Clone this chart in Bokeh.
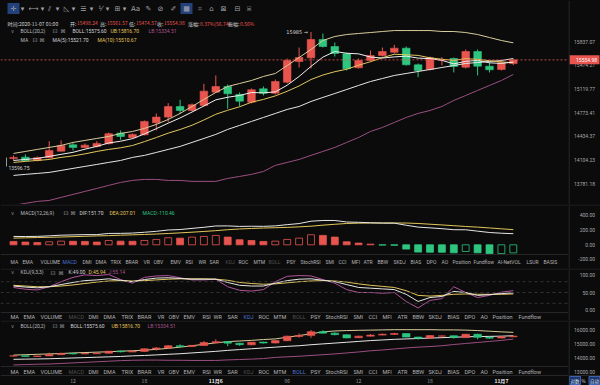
from bokeh.plotting import figure
from bokeh.layouts import column, row
from bokeh.models import Range1d, LinearScale, Span
from bokeh.core.properties import value
from bokeh.embed import file_html
from bokeh.resources import INLINE

try:
    from bokeh.models import GlobalInlineStyleSheet
except Exception:
    GlobalInlineStyleSheet = None

# ---------------- data ----------------
header_time = "2020-11-07 01:00"
opens = [14124, 14142, 14096, 14134, 14225, 14314, 14277, 14291, 14329, 14478, 14413, 14455, 14626, 14707,
         14861, 14803, 14876, 15071, 15155, 15037, 14924, 15120, 15056, 15219, 15530, 15586, 15868, 15760,
         15648, 15435, 15545, 15621, 15672, 15734, 15480, 15409, 15552, 15576, 15444, 15683, 15459, 15409, 15498.24]
highs = [14166, 14180, 14152, 14365, 14375, 14338, 14333, 14365, 14488, 14516, 14474, 14659, 14760, 14910,
         14959, 14905, 15195, 15319, 15185, 15066, 15125, 15155, 15259, 15576, 15744, 15985, 15962, 15822,
         15667, 15576, 15698, 15744, 15786, 15760, 15500, 15606, 15596, 15591, 15714, 15714, 15515, 15545, 15561.57]
lows = [14096, 14083, 14083, 14124, 14221, 14235, 14263, 14277, 14319, 14384, 14403, 14445, 14516, 14635,
        14755, 14789, 14861, 15066, 14828, 14861, 14905, 15022, 15037, 15199, 15439, 15424, 15744, 15606,
        15394, 15424, 15530, 15606, 15652, 15469, 15293, 15394, 15469, 15365, 15424, 15319, 15364, 15394, 15474.57]
closes = [14138, 14096, 14134, 14235, 14305, 14277, 14309, 14333, 14470, 14431, 14460, 14645, 14707, 14861,
          14803, 14886, 15086, 15155, 15047, 14939, 15106, 15056, 15229, 15545, 15591, 15868, 15760, 15652,
          15420, 15545, 15621, 15683, 15734, 15480, 15394, 15586, 15558, 15454, 15683, 15459, 15404, 15511, 15554.98]

boll_up = [14193, 14221, 14249, 14277, 14305, 14347, 14375, 14403, 14431, 14474, 14502, 14545, 14602, 14673,
           14760, 14861, 14964, 15066, 15155, 15199, 15244, 15304, 15349, 15469, 15591, 15714, 15853, 15915,
           15946, 15962, 15977, 15993, 16008, 16008, 16008, 16008, 15993, 15993, 15977, 15946, 15899, 15853, 15816.70]
boll_mid = [13891, 13905, 13918, 13932, 13959, 13987, 14014, 14041, 14069, 14096, 14138, 14166, 14207, 14249,
            14291, 14347, 14403, 14460, 14531, 14588, 14645, 14702, 14760, 14818, 14861, 14934, 14993, 15051,
            15110, 15170, 15229, 15274, 15319, 15349, 15379, 15409, 15439, 15469, 15500, 15515, 15530, 15545, 15575.60]
boll_low = [13489, 13516, 13542, 13555, 13595, 13635, 13675, 13715, 13756, 13796, 13823, 13837, 13837, 13823,
            13823, 13810, 13810, 13810, 13850, 13877, 13905, 13945, 14028, 14069, 14110, 14166, 14221, 14277,
            14347, 14417, 14502, 14559, 14630, 14702, 14760, 14803, 14861, 14949, 15022, 15096, 15170, 15244, 15334.51]
ma5 = [14096, 14110, 14124, 14152, 14181, 14209, 14252, 14292, 14339, 14364, 14400, 14467, 14542, 14620,
       14695, 14780, 14868, 14958, 14996, 15022, 15066, 15060, 15075, 15174, 15304, 15456, 15597, 15683,
       15656, 15647, 15598, 15583, 15600, 15612, 15582, 15574, 15548, 15494, 15533, 15547, 15510, 15501, 15521.70]
ma10 = [14069, 14083, 14096, 14110, 14138, 14159, 14187, 14221, 14249, 14272, 14304, 14358, 14416, 14478,
        14530, 14590, 14666, 14748, 14806, 14857, 14923, 14964, 15016, 15084, 15163, 15259, 15326, 15376,
        15413, 15474, 15527, 15589, 15641, 15633, 15623, 15586, 15565, 15547, 15573, 15563, 15542, 15524, 15510.67]

macd_dif = [114, 113, 115, 122, 131, 135, 139, 139, 155, 156, 160, 171, 184, 202, 208, 224, 239, 257, 258, 251,
            253, 252, 258, 275, 290, 322, 332, 332, 311, 307, 301, 296, 295, 267, 241, 231, 220, 206, 205, 186,
            168, 158, 151.70]
macd_dea = [91, 95, 99, 102, 106, 111, 116, 121, 125, 131, 136, 141, 147, 154, 163, 172, 182, 193, 206, 216,
            223, 229, 233, 238, 245, 254, 268, 280, 291, 295, 297, 298, 298, 297, 291, 281, 271, 261, 250, 241,
            230, 218, 207.01]
macd_hist = [46, 37, 32, 41, 50, 48, 46, 37, 59, 50, 48, 59, 73, 96, 91, 105, 114, 128, 105, 69, 59, 46, 50,
             73, 91, 137, 128, 105, 41, 23, 9, -4, -6, -59, -100, -101, -102, -110, -91, -110, -123, -120, -110.46]

kdj_k = [68, 65, 63, 66, 72, 78, 83, 85, 88, 84, 80, 86, 90, 91, 89, 87, 87, 87, 78, 70, 68, 68, 76, 83, 87,
         88, 84, 80, 72, 64, 62, 60, 58, 45, 25, 36, 39, 53, 50, 42, 44, 47, 49.00]
kdj_d = [70, 68, 66, 66, 68, 71, 75, 79, 82, 83, 82, 83, 85, 87, 88, 88, 88, 87, 84, 78, 75, 73, 74, 77, 80,
         82, 83, 82, 79, 74, 70, 67, 64, 55, 42, 40, 42, 45, 46, 45, 45, 45, 45.94]
kdj_j = [64, 59, 57, 66, 80, 92, 99, 97, 100, 86, 76, 92, 96, 97, 91, 85, 85, 87, 66, 56, 54, 58, 80, 95, 97,
         96, 86, 76, 58, 50, 50, 48, 50, 25, 7, 28, 33, 66, 50, 36, 42, 51, 55.14]

price_ticks = [13781.18, 14104.23, 14434.37, 14773.41, 15119.77, 15474.27, 15837.07]
macd_ticks = [-200, 0, 200, 400]
kdj_ticks = [0, 50, 100]
kdj_levels = [20, 50, 80]
boll_ticks = [13000, 14000, 15000, 16000]
low_mark = 13596.75

time_tick_idx = [5, 11, 17, 23, 29, 35, 41]
time_tick_labels = ["12", "18", "11月6", "06", "12", "18", "11月7"]

tabs_a = ["MA", "EMA", "VOLUME", "MACD", "DMI", "DMA", "TRIX", "BRAR", "VR", "OBV", "EMV", "RSI", "WR", "SAR",
          "KDJ", "ROC", "MTM", "BOLL", "PSY", "StochRSI", "SMI", "CCI", "MFI", "ATR", "BBW", "SKDJ", "BIAS",
          "DPO", "AO", "Position", "Fundflow", "AI-NetVOL", "LSUR", "BASIS"]
tabs_b = tabs_a[:31]

# ---------------- style ----------------
BG = "#0b0b0c"
RED = "#e8554f"
GREEN = "#2ec67f"
TXT = "#d4d4d4"
YEL = "#e3c65a"
PUR = "#a8528a"
GRAY = "#8a8a8a"
SEP = "#262628"
UB_C = "#d8cc9a"
MID_C = "#e6e6e6"
LB_C = "#9a4f80"
MA5_C = "#f0f0f0"
MA10_C = "#e2c75e"
J_C = "#b0559c"
BLUE = "#4a74d2"
DIM = "#505050"
AXT = "#a8a8a8"

FRAME_W = 568
AX_W = 32
X0 = -13 / 11.9
X1 = (FRAME_W - 13) / 11.9
idx = list(range(len(closes)))


def base_fig(h, yr, log=False):
    p = figure(width=FRAME_W, height=h, x_range=Range1d(X0, X1), y_range=yr,
               y_axis_type="log" if log else "linear", x_axis_location=None,
               y_axis_location=None, output_backend="svg", toolbar_location=None,
               min_border_left=0, min_border_right=0, min_border_top=0, min_border_bottom=0,
               background_fill_color=BG, border_fill_color=BG, outline_line_color=None)
    p.extra_x_ranges = {"ux": Range1d(0, FRAME_W)}
    p.extra_x_scales = {"ux": LinearScale()}
    p.extra_y_ranges = {"uy": Range1d(h, 0)}
    p.extra_y_scales = {"uy": LinearScale()}
    p.grid.visible = False
    return p


def axis_fig(h, yr, ticks, log=False):
    a = figure(width=AX_W, height=h, x_range=Range1d(0, AX_W), y_range=yr,
               y_axis_type="log" if log else "linear", x_axis_location=None,
               y_axis_location=None, output_backend="svg", toolbar_location=None,
               min_border_left=0, min_border_right=0, min_border_top=0, min_border_bottom=0,
               background_fill_color=BG, border_fill_color=BG, outline_line_color=None)
    a.extra_y_ranges = {"uy": Range1d(h, 0)}
    a.extra_y_scales = {"uy": LinearScale()}
    a.grid.visible = False
    a.add_layout(Span(location=0.5, dimension="height", line_color="#303032", line_width=1))
    a.text(x=[26.5] * len(ticks), y=ticks, text=["%.2f" % t for t in ticks], text_color=AXT,
           text_font=value("Roboto"), text_font_size=value("5px"), text_align="right",
           text_baseline="middle")
    return a


def txt(p, xs, ys, texts, colors, size="5px", font="Roboto", align="left", style="normal", data_x=False):
    kw = {"y_range_name": "uy"}
    if not data_x:
        kw["x_range_name"] = "ux"
    p.text(x=xs, y=ys, text=texts, text_color=colors, text_font=value(font),
           text_font_size=value(size), text_align=align, text_baseline="middle",
           text_font_style=style, **kw)


def sep(p, y):
    p.add_layout(Span(location=y, dimension="width", y_range_name="uy", line_color=SEP, line_width=1))


def legend_head(p, y, name, x_name, x_boxes, items):
    txt(p, [12], [y], ["∨"], GRAY, size="5px", font="DejaVu Sans", align="center")
    txt(p, [x_name], [y], [name], "#bdbdbd")
    txt(p, x_boxes, [y, y], ["⊡", "⊠"], "#9a9a9a", size="6px", font="DejaVu Sans")
    txt(p, [i[0] for i in items], [y] * len(items), [i[1] for i in items], [i[2] for i in items])


def tab_row(p, y, names, xs, active, dims, size):
    cols = [BLUE if n == active else (DIM if n in dims else "#b4b4b4") for n in names]
    txt(p, xs, [y] * len(names), names, cols, size=size)


def candles(p, width):
    cols = [RED if c >= o else GREEN for o, c in zip(opens, closes)]
    tops = [max(o, c) for o, c in zip(opens, closes)]
    bots = [min(o, c) for o, c in zip(opens, closes)]
    p.segment(x0=idx, y0=highs, x1=idx, y1=lows, line_color=cols, line_width=1)
    p.vbar(x=idx, width=width, top=tops, bottom=bots, fill_color=cols, line_color=cols, line_width=0.6)


# ---------------- main price panel ----------------
yr_main = Range1d(13501, 16486)
pm = base_fig(204, yr_main, log=True)
am = axis_fig(204, yr_main, price_ticks, log=True)
candles(pm, 0.64)
pm.line(idx, boll_low, line_color=LB_C, line_width=1)
pm.line(idx, boll_mid, line_color=MID_C, line_width=1)
pm.line(idx, boll_up, line_color=UB_C, line_width=1)
pm.line(idx, ma10, line_color=MA10_C, line_width=1)
pm.line(idx, ma5, line_color=MA5_C, line_width=1)

last = closes[-1]
pm.add_layout(Span(location=last, dimension="width", line_color=RED, line_dash="2 2", line_width=0.8))
am.rect(x=[16], y=[last], width=[30], height=[9], height_units="screen", fill_color=RED, line_color=None)
am.text(x=[28.5], y=[last], text=["%.2f" % last], text_color="#ffffff", text_font=value("Roboto"),
        text_font_size=value("5px"), text_align="right", text_baseline="middle")

hi_i = max(idx, key=lambda i: highs[i])
pm.text(x=[hi_i], y=[highs[hi_i]], text=["%d →" % round(highs[hi_i])], text_color=TXT,
        text_font=value("DejaVu Sans"), text_font_size=value("5px"), text_align="right",
        text_baseline="middle", x_offset=-3)
pm.segment(x0=[6], y0=[157], x1=[6], y1=[166], x_range_name="ux", y_range_name="uy",
           line_color="#bdbdbd", line_width=0.8)
txt(pm, [8], [167], ["%.2f" % low_mark], TXT)

# toolbar
pm.rect(x=[13, 186], y=[8, 8], width=[12, 12], height=[11, 11], x_range_name="ux", y_range_name="uy",
        fill_color="#23417a", line_color=None)
icons = ["✛", "▾", "⟷", "▾", "⫽", "▾", "◺", "▾", "☰", "▾", "⅟", "▾", "⊞", "▾", "Aa", "✎", "⊘", "✐",
         "▦", "⌗", "⌂", "⊠", "⊟", "⌸"]
icon_x = [13, 22, 33, 42, 49, 57, 66, 73, 83, 91, 100, 107, 117, 124, 135, 148, 160, 173, 186, 199, 211,
          223, 237, 248]
txt(pm, icon_x, [8] * len(icons), icons, "#a4a4aa", size="7px", font="DejaVu Sans", align="center")

# header
o, h, l, c = opens[-1], highs[-1], lows[-1], closes[-1]
hdr = [("时间:" + header_time, 7, TXT, "left"),
       ("开:", 76, TXT, "right"), ("%.2f" % o, 76.5, RED, "left"),
       ("高:", 106, TXT, "right"), ("%.2f" % h, 106.5, RED, "left"),
       ("低:", 135, TXT, "right"), ("%.2f" % l, 135.5, RED, "left"),
       ("收:", 163, TXT, "right"), ("%.2f" % c, 163.5, RED, "left"),
       ("涨幅:", 199, TXT, "right"), ("%.2f%%(%.2f)" % ((c - o) / o * 100, c - o), 199.5, RED, "left"),
       ("振幅:", 239, TXT, "right"), ("%.2f%%" % ((h - l) / o * 100), 239.5, RED, "left")]
for s, x, col, al in hdr:
    txt(pm, [x], [22.5], [s], col, font="Noto Sans CJK SC", align=al)

legend_head(pm, 30, "BOLL(20,2)", 20, [52, 60],
            [(72, "BOLL:%.2f" % boll_mid[-1], TXT), (110, "UB:%.2f" % boll_up[-1], YEL),
             (148, "LB:%.2f" % boll_low[-1], PUR)])
txt(pm, [20], [39], ["MA"], "#bdbdbd")
txt(pm, [32, 39], [39, 39], ["⊡", "⊠"], "#9a9a9a", size="6px", font="DejaVu Sans")
txt(pm, [52, 97], [39, 39], ["MA(5):%.2f" % ma5[-1], "MA(10):%.2f" % ma10[-1]], [TXT, YEL])

# ---------------- MACD panel ----------------
yr_macd = Range1d(-323.5, 550)
pc = base_fig(64, yr_macd)
ac = axis_fig(64, yr_macd, macd_ticks)
hcols, hfill = [], []
for i, v in enumerate(macd_hist):
    col = RED if v >= 0 else GREEN
    prev = macd_hist[i - 1] if i > 0 else v
    hollow = v > prev
    hcols.append(col)
    hfill.append(BG if hollow else col)
pc.vbar(x=idx, width=0.58, top=macd_hist, bottom=0, fill_color=hfill, line_color=hcols, line_width=0.8)
pc.line(idx, macd_dea, line_color=YEL, line_width=1)
pc.line(idx, macd_dif, line_color=MID_C, line_width=1)
for f in (pc, ac):
    sep(f, 0.5)
sep(pc, 50)
legend_head(pc, 8, "MACD(12,26,9)", 20, [63, 70],
            [(79, "DIF:%.2f" % macd_dif[-1], TXT), (109, "DEA:%.2f" % macd_dea[-1], YEL),
             (142, "MACD:%.2f" % macd_hist[-1], GREEN)])
xa = [10, 22, 40, 62, 82, 95, 110, 125, 143, 153, 170, 185, 198, 209, 225, 238, 253, 268, 286, 300, 325,
      338, 351, 363, 377, 393, 410, 426, 441, 452, 473, 497, 526, 543]
tab_row(pc, 57, tabs_a, xa, "MACD", ["KDJ", "BOLL"], "5px")

# ---------------- KDJ panel ----------------
yr_kdj = Range1d(-27.8, 116.7)
pk = base_fig(52, yr_kdj)
ak = axis_fig(52, yr_kdj, kdj_ticks)
for lv in kdj_levels:
    pk.add_layout(Span(location=lv, dimension="width", line_color="#3c3c3e", line_dash="3 3", line_width=0.8))
pk.line(idx, kdj_j, line_color=J_C, line_width=1)
pk.line(idx, kdj_d, line_color=YEL, line_width=1)
pk.line(idx, kdj_k, line_color=MID_C, line_width=1)
for f in (pk, ak):
    sep(f, 0.5)
sep(pk, 44)
legend_head(pk, 3.5, "KDJ(9,3,3)", 20, [50, 58],
            [(68, "K:%.2f" % kdj_k[-1], TXT), (88, "D:%.2f" % kdj_d[-1], YEL), (108, "J:%.2f" % kdj_j[-1], PUR)])
xb = [10, 23, 40, 68, 88, 103, 121, 137, 157, 168, 183, 202, 213, 227, 243, 258, 273, 292, 310, 325, 353,
      368, 382, 397, 412, 428, 447, 464, 480, 492, 518]
tab_row(pk, 48, tabs_b, xb, "KDJ", ["MACD", "BOLL"], "5.5px")

# ---------------- bottom BOLL panel ----------------
yr_boll = Range1d(12021, 16664)
pb = base_fig(65, yr_boll)
ab = axis_fig(65, yr_boll, boll_ticks)
pb.line(idx, boll_low, line_color=LB_C, line_width=1)
pb.line(idx, boll_mid, line_color=MID_C, line_width=1)
pb.line(idx, boll_up, line_color=UB_C, line_width=1)
candles(pb, 0.64)
for f in (pb, ab):
    sep(f, 0.5)
    sep(f, 55)
sep(pb, 46)
legend_head(pb, 5, "BOLL(20,2)", 20, [52, 59],
            [(70, "BOLL:%.2f" % boll_mid[-1], TXT), (111, "UB:%.2f" % boll_up[-1], YEL),
             (147, "LB:%.2f" % boll_low[-1], PUR)])
tab_row(pb, 51, tabs_b, xb, "BOLL", ["MACD", "KDJ"], "5.5px")

hx = [i for i, t in zip(time_tick_idx, time_tick_labels) if "月" not in t]
ht = [t for t in time_tick_labels if "月" not in t]
dx = [i for i, t in zip(time_tick_idx, time_tick_labels) if "月" in t]
dt = [t for t in time_tick_labels if "月" in t]
txt(pb, hx, [60] * len(hx), ht, "#9c9c9c", font="Noto Sans CJK SC", align="center", data_x=True)
txt(pb, dx, [60] * len(dx), dt, "#f0f0f0", font="Noto Sans CJK SC", align="center", style="bold", data_x=True)

# scale-mode buttons at the bottom right
ab.rect(x=[6.5, 26], y=[60, 60], width=[11, 11], height=[8, 8], y_range_name="uy",
        fill_color="#1d3466", line_color=BLUE, line_width=0.8)
ab.text(x=[6.5, 15, 26], y=[60, 60, 60], text=["对数", "%", "自动"], text_color=["#dde6ff", "#c8c8c8", "#dde6ff"],
        text_font=value("Noto Sans CJK SC"), text_font_size=value("4.5px"), text_align="center",
        text_baseline="middle", y_range_name="uy")

layout = column(row(pm, am, spacing=0), row(pc, ac, spacing=0), row(pk, ak, spacing=0),
                row(pb, ab, spacing=0), spacing=0)
if GlobalInlineStyleSheet is not None:
    layout.stylesheets = [GlobalInlineStyleSheet(css="html, body { background: #0b0b0c; }")]

open("out.html", "w").write(file_html(layout, INLINE))
